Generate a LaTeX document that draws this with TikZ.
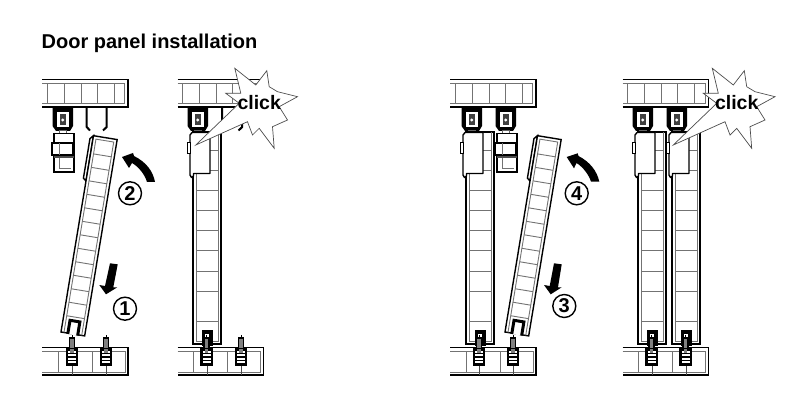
\documentclass[tikz,border=0pt]{standalone}
\usepackage{fontspec}
\setmainfont{Liberation Sans}
\tikzset{
  ink/.style={draw=black,line width=1.4pt},
  thin ink/.style={draw=black!55,line width=.9pt},
  heavy/.style={draw=black,line width=2.8pt},
  burstshape/.style={draw=black!70,fill=white,line width=.7pt,line join=miter},
  clicktext/.style={font=\fontsize{19.5}{20}\selectfont\bfseries,inner sep=0pt},
  stepnum/.style={circle,draw=black,line width=1.4pt,fill=white,minimum size=23pt,inner sep=0pt,font=\fontsize{20}{20}\selectfont\bfseries},
  bigarrow/.style={fill=black,draw=none}
}
\newcommand{\railtop}[1]{\begin{scope}[shift={(#1,0)}]
  \draw[ink,line width=1.6pt] (0,79.5)--(86,79.5)--(86,107);
  \draw[thin ink] (0,83.5)--(82.5,83.5)--(82.5,103)--(0,103);
  \foreach \x in {5,22,39,55,72} \draw[thin ink] (\x,83.5)--(\x,103);
  \draw[heavy] (0,107)--(86.8,107);
\end{scope}}
\newcommand{\railbottom}[1]{\begin{scope}[shift={(#1,0)}]
  \draw[ink] (0,347.5)--(86,347.5)--(86,375)--(0,375);
  \draw[thin ink] (0,351)--(83,351)--(83,372)--(0,372);
  \foreach \x in {16,50} \draw[thin ink] (\x,351)--(\x,372);
\end{scope}}
\newcommand{\carrier}[1]{\begin{scope}[shift={(#1,0)}]
  \fill[black] (-10.5,108)--(10,108)--(10,126)--(7,131)--(-7,131)--(-10.5,126)--cycle;
  \draw[black!60,line width=.7pt,fill=white] (-3.5,130)rectangle(3.5,134);
  \fill[white] (-6,112)rectangle(5.5,127);
  \fill[black!75] (-3.5,114.5)rectangle(3,125);
  \fill[white] (-.2,120) circle (1.6);
\end{scope}}
\newcommand{\hooks}[1]{\begin{scope}[shift={(#1,0)}]
  \draw[black,line width=2pt] (44.7,108)--(44.7,127)--(48,130.5);
  \draw[black,line width=2pt] (64.7,108)--(64.7,127)--(61,130.5);
\end{scope}}
\newcommand{\clipbody}[1]{\begin{scope}[shift={(#1,0)}]
  \draw[ink,fill=white] (-9,133.5)rectangle(11,172);
  \draw[thin ink] (-4,155)--(-4,168)--(8,168);
  \draw[black!70,line width=1.5pt] (-9,157)--(11,157);
  \draw[ink,line width=1.7pt,fill=white] (-11,143)rectangle(9.5,155);
  \draw[thin ink] (-4,143)--(-4,155);
\end{scope}}
\newcommand{\door}[1]{\begin{scope}[shift={(#1,0)}]
  \draw[ink,fill=white] (0,132)rectangle(28,344);
  \draw[thin ink] (3,132)--(3,341)--(25,341)--(25,132);
  \foreach \y in {150,170,190,210,230,250,271,291,321} \draw[thin ink] (3,\y)--(25,\y);
  \fill[black] (8.5,330)rectangle(19.5,346);
  \fill[white] (12,334)rectangle(16,346);
  \draw[ink,fill=white,line join=round] (-3,135)--(-1,132.5)--(17,132.5)--(17,173.5)--(0.5,173.5)--(0.5,176)--(-1.5,177.5)--(-3,175)--cycle;
  \draw[black,line width=.8pt,fill=white] (-3,142)rectangle(-5.5,153);
\end{scope}}
\newcommand{\pin}[1]{\begin{scope}[shift={(#1,0)}]
  \draw[black!70,line width=.8pt] (.5,365)--(.5,375);
  \draw[black,line width=.7pt] (0,336.5)--(0,334.5);
  \draw[black,line width=1.1pt,fill=black!50] (-2.5,350)--(-2.5,338)--(2.5,338)--(2.5,350)--cycle;
  \fill[black] (-6.3,347.5)rectangle(6.3,365.5);
  \foreach \y in {351,354.4,357.8,361.2} \fill[white] (-4,\y)rectangle(4,\y+1.7);
  \fill[black!50] (-1.8,348.5)rectangle(1.8,352.5);
\end{scope}}
\newcommand{\tiltpanel}[1]{\begin{scope}[shift={(#1,332)},rotate=-9.4]
  \draw[ink,fill=white] (-3,-195.5)--(0,-199)--(0,-153)--(-3,-155.5)--cycle;
  \draw[ink,fill=white] (0,0)rectangle(24,-199);
  \draw[thin ink] (3,0)--(3,-196)--(21,-196)--(21,0);
  \foreach \k in {0,...,12} \draw[thin ink] (3,-17-13.67*\k)--(21,-17-13.67*\k);
  \fill[white] (8,.9)rectangle(16,-11);
  \draw[black,line width=3pt] (7,.8)--(7,-13)--(17,-13)--(17,.8);
\end{scope}}
\newcommand{\burstat}[2]{\begin{scope}[shift={(#1,0)}]
  \draw[burstshape] (673.3,145)--(725,121.7)--(730,135)--(736.7,128.3)--(751.7,148.3)--(750,126.7)--(765,120)--(756.7,106.7)--(775,96.7)--(755,91.7)--(746.7,86.7)--(744.3,70.7)--(733.3,85)--(712.3,68.3)--(718.3,93.3)--(703.3,93.3)--(716.7,103.3)--cycle;
  \node[clicktext] (#2) at (736.7,102.7) {click};
\end{scope}}
\begin{document}
\begin{tikzpicture}[x=1pt,y=-1pt]
\useasboundingbox (0,0) rectangle (800,406);
\fill[white] (0,0) rectangle (800,406);
\node[anchor=base west,inner sep=0pt,font=\fontsize{20}{20}\selectfont\bfseries] (title) at (41.5,49) {Door panel installation};
% panel 1
\railtop{42}\railbottom{42}
\carrier{63}\hooks{42}\clipbody{63}
\tiltpanel{61}
\pin{72}\pin{106}
% panel 2
\railtop{177.5}\railbottom{177.5}
\carrier{198}\hooks{177.5}
\door{193}
\pin{206.5}\pin{241}
\burstat{-477.5}{clickA}
% panel 3
\railtop{450}\railbottom{450}
\carrier{472}\carrier{506}\clipbody{506}
\door{466}
\tiltpanel{505}
\pin{479}\pin{513}
% panel 4
\railtop{622.5}\railbottom{622.5}
\carrier{643}\carrier{677}
\door{638}\door{672}
\pin{651.5}\pin{685.5}
\burstat{0}{clickB}
% arrows
\fill[bigarrow] (122,157)--(133,153)--(134,156) .. controls (146,162) and (153,171) .. (155,182)--(147,182) .. controls (145,175) and (139,167) .. (132,163)--(129,168)--cycle;
\fill[bigarrow] (566.7,157)--(577.7,153.3)--(578.5,156) .. controls (590,162) and (597,171) .. (599.3,181.7)--(591,181.7) .. controls (589,175) and (583,167) .. (576.5,163)--(574,168.3)--cycle;
\fill[bigarrow] (110,263.3)--(117.7,264.3)--(113.3,287.3)--(117.3,287.3)--(106,294.3)--(99.3,285)--(105,286)--cycle;
\fill[bigarrow] (554,263.3)--(561.7,264.3)--(558,287.3)--(561.7,287.3)--(550.7,294.3)--(544,285)--(549.7,286)--cycle;
\node[stepnum] (n2) at (130,193.3) {2};
\node[stepnum] (n1) at (125,308.7) {1};
\node[stepnum] (n4) at (576.7,193.3) {4};
\node[stepnum] (n3) at (564.3,306) {3};
\end{tikzpicture}
\end{document}
